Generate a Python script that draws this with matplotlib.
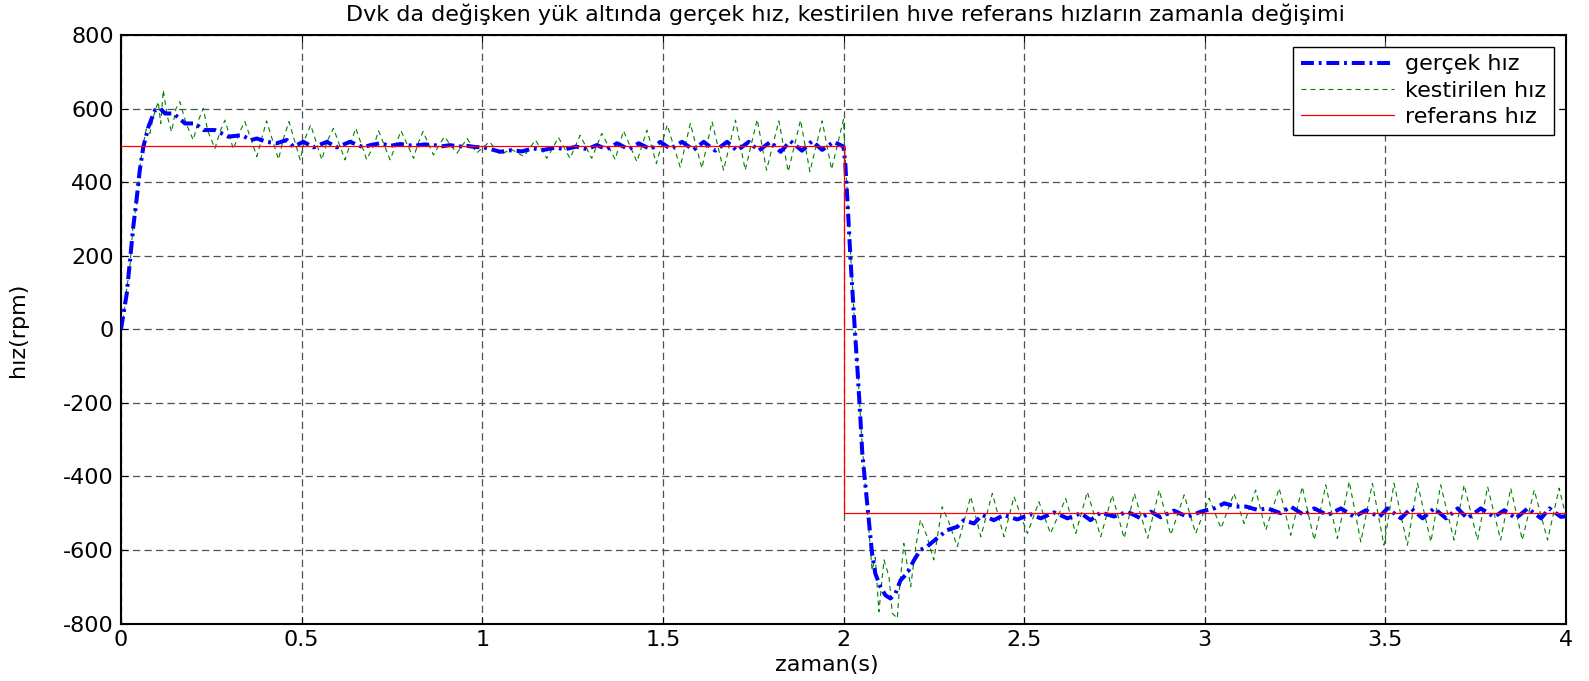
import matplotlib
matplotlib.use("Agg")
import matplotlib.pyplot as plt

plt.rcParams['font.family'] = ['DejaVu Sans']

# --- data -----------------------------------------------------------------
# actual speed (rpm)
gercek_t = [0, 0.016, 0.025, 0.034, 0.043, 0.052, 0.062, 0.076, 0.094, 0.108,
            0.122, 0.145, 0.16, 0.177, 0.205, 0.228, 0.26, 0.297, 0.334, 0.36,
            0.376, 0.403, 0.431, 0.459, 0.477, 0.505, 0.533, 0.57, 0.597, 0.634,
            0.671, 0.69, 0.717, 0.745, 0.773, 0.81, 0.84, 0.865, 0.89, 0.911,
            0.935, 0.958, 0.98, 1.004, 1.05, 1.08, 1.11, 1.14, 1.17, 1.2,
            1.23, 1.26, 1.29, 1.317, 1.345, 1.373, 1.405, 1.433, 1.466, 1.493,
            1.521, 1.553, 1.585, 1.613, 1.645, 1.678, 1.705, 1.738, 1.765, 1.798,
            1.826, 1.853, 1.885, 1.913, 1.941, 1.973, 2.0, 2.005, 2.012, 2.02,
            2.03, 2.04, 2.047, 2.052, 2.061, 2.07, 2.079, 2.088, 2.102, 2.116,
            2.13, 2.144, 2.158, 2.176, 2.195, 2.213, 2.231, 2.259, 2.287, 2.315,
            2.333, 2.361, 2.384, 2.416, 2.444, 2.481, 2.518, 2.546, 2.583, 2.62,
            2.657, 2.684, 2.712, 2.749, 2.786, 2.823, 2.851, 2.878, 2.915, 2.952,
            2.989, 3.026, 3.054, 3.086, 3.114, 3.146, 3.174, 3.21, 3.238, 3.275,
            3.303, 3.34, 3.377, 3.414, 3.446, 3.483, 3.506, 3.543, 3.571, 3.603,
            3.635, 3.668, 3.7, 3.727, 3.764, 3.801, 3.829, 3.861, 3.894, 3.931,
            3.954, 3.986, 4.0]
gercek_v = [0, 98, 188, 279, 352, 433, 497, 551, 596, 601,
            587, 587, 575, 560, 560, 542, 542, 524, 528, 515,
            519, 510, 506, 515, 497, 510, 495, 510, 495, 510,
            495, 501, 506, 499, 504, 499, 503, 501, 498, 501,
            497, 499, 496, 495, 483, 487, 484, 492, 488, 494,
            490, 497, 490, 501, 490, 506, 490, 506, 490, 510,
            491, 510, 488, 510, 486, 510, 486, 510, 486, 510,
            483, 512, 486, 512, 488, 510, 497, 450, 330, 180,
            20, -130, -247, -337, -428, -518, -609, -664, -700, -723,
            -732, -718, -682, -664, -628, -600, -591, -568, -546, -537,
            -519, -528, -505, -519, -505, -517, -503, -514, -498, -514,
            -500, -519, -498, -509, -496, -514, -496, -511, -493, -510,
            -496, -487, -473, -482, -482, -491, -487, -500, -482, -505,
            -487, -505, -487, -510, -492, -510, -487, -514, -487, -514,
            -487, -514, -487, -514, -487, -510, -492, -514, -487, -514,
            -487, -510, -508]

# estimated speed (rpm)
kestirilen_t = [0, 0.008, 0.016, 0.025, 0.034, 0.043, 0.052, 0.062, 0.07, 0.08,
                0.09, 0.103, 0.11, 0.117, 0.128, 0.14, 0.152, 0.163, 0.18, 0.2,
                0.215, 0.228, 0.24, 0.26, 0.275, 0.288, 0.311, 0.33, 0.343, 0.376,
                0.39, 0.403, 0.436, 0.45, 0.465, 0.496, 0.51, 0.525, 0.556, 0.57,
                0.588, 0.62, 0.635, 0.65, 0.68, 0.7, 0.713, 0.745, 0.76, 0.775,
                0.81, 0.82, 0.836, 0.865, 0.88, 0.895, 0.93, 0.945, 0.958, 0.985,
                1.02, 1.05, 1.08, 1.115, 1.147, 1.179, 1.211, 1.243, 1.271, 1.303,
                1.331, 1.368, 1.391, 1.428, 1.456, 1.482, 1.512, 1.548, 1.576, 1.608,
                1.636, 1.668, 1.701, 1.728, 1.761, 1.787, 1.821, 1.847, 1.881, 1.907,
                1.941, 1.967, 2.0, 2.003, 2.01, 2.02, 2.03, 2.04, 2.05, 2.06,
                2.07, 2.079, 2.088, 2.098, 2.112, 2.126, 2.135, 2.149, 2.153, 2.167,
                2.186, 2.2, 2.213, 2.23, 2.25, 2.273, 2.29, 2.315, 2.352, 2.38,
                2.412, 2.444, 2.472, 2.509, 2.541, 2.573, 2.615, 2.643, 2.675, 2.712,
                2.744, 2.777, 2.805, 2.842, 2.874, 2.906, 2.943, 2.975, 3.012, 3.045,
                3.081, 3.109, 3.141, 3.169, 3.206, 3.238, 3.27, 3.303, 3.335, 3.367,
                3.4, 3.432, 3.464, 3.496, 3.524, 3.561, 3.589, 3.626, 3.653, 3.69,
                3.718, 3.755, 3.783, 3.819, 3.847, 3.879, 3.912, 3.949, 3.981, 4.0]
kestirilen_v = [0, 40, 110, 175, 290, 340, 440, 505, 545, 533,
                580, 619, 560, 651, 580, 537, 600, 619, 560, 515,
                570, 601, 540, 492, 540, 569, 490, 540, 565, 470,
                520, 567, 462, 520, 565, 461, 520, 556, 461, 510,
                547, 461, 505, 547, 462, 500, 540, 461, 500, 540,
                465, 500, 538, 474, 500, 524, 479, 500, 519, 480,
                510, 475, 490, 470, 515, 465, 522, 465, 528, 465,
                533, 462, 540, 456, 542, 451, 556, 441, 560, 438,
                565, 433, 569, 433, 571, 433, 567, 429, 569, 429,
                567, 435, 571, 490, 380, 200, 30, -120, -290, -420,
                -540, -655, -620, -768, -627, -673, -772, -786, -727, -582,
                -700, -591, -518, -560, -627, -482, -520, -591, -455, -564,
                -446, -564, -455, -555, -469, -555, -460, -555, -442, -564,
                -451, -568, -446, -568, -437, -559, -450, -555, -459, -541,
                -446, -528, -437, -546, -432, -560, -428, -573, -423, -569,
                -414, -578, -419, -587, -419, -587, -419, -578, -423, -573,
                -423, -573, -428, -573, -432, -573, -437, -573, -432, -510]

# reference speed (rpm)
referans_t = [0, 2, 2, 4]
referans_v = [500, 500, -500, -500]

x_ticks = [0, 0.5, 1, 1.5, 2, 2.5, 3, 3.5, 4]
x_tick_labels = ['0', '0.5', '1', '1.5', '2', '2.5', '3', '3.5', '4']
y_ticks = [-800, -600, -400, -200, 0, 200, 400, 600, 800]
y_tick_labels = ['-800', '-600', '-400', '-200', '0', '200', '400', '600', '800']

title_text = 'Dvk da değişken yük altında gerçek hız, kestirilen hıve referans hızların zamanla değişimi'
labels = ['gerçek hız', 'kestirilen hız', 'referans hız']

# --- figure ---------------------------------------------------------------
W, H = 1589, 681
fig = plt.figure(figsize=(W / 100, H / 100), dpi=100)
ax_l, ax_r, ax_t, ax_b = 121, 1566, 35.2, 623.5
ax = fig.add_axes([ax_l / W, 1 - ax_b / H, (ax_r - ax_l) / W, (ax_b - ax_t) / H])

fs = 16

ax.plot(gercek_t, gercek_v, color='#0000ff', lw=2.9,
        linestyle=(0, (3.2, 1.2, 0.7, 1.2)), label=labels[0], zorder=3)
ax.plot(kestirilen_t, kestirilen_v, color='#008000', lw=0.8,
        linestyle=(0, (4.5, 3.6)), label=labels[1], zorder=2)
ax.plot(referans_t, referans_v, color='#ff0000', lw=0.9,
        linestyle='-', label=labels[2], zorder=4)

ax.set_xlim(0, 4)
ax.set_ylim(-800, 800)
ax.set_xticks(x_ticks)
ax.set_xticklabels(x_tick_labels, fontsize=fs)
ax.set_yticks(y_ticks)
ax.set_yticklabels(y_tick_labels, fontsize=fs)
ax.tick_params(direction='in', length=5, width=0.8, top=True, right=True,
               pad=5, colors='black')

ax.grid(True, color='#505050', lw=0.9, linestyle=(0, (5.8, 3.4)))
ax.set_axisbelow(True)
for s in ax.spines.values():
    s.set_linewidth(1.5)
    s.set_color('black')

ax.set_xlabel('zaman(s)', fontsize=fs, va='center')
ax.xaxis.set_label_coords((827 - ax_l) / (ax_r - ax_l), (ax_b - 665) / (ax_b - ax_t))
ax.set_ylabel('hız(rpm)', fontsize=fs, va='center')
ax.yaxis.set_label_coords((18 - ax_l) / (ax_r - ax_l), 0.5)

fig.text(845 / W, 1 - 14 / H, title_text, fontsize=fs, ha='center', va='center')

leg = ax.legend(loc='upper right', bbox_to_anchor=(1554 / W, 1 - 46.7 / H),
                bbox_transform=fig.transFigure, fontsize=fs, frameon=True,
                fancybox=False, shadow=False, framealpha=1, edgecolor='black',
                handlelength=4.2, handletextpad=0.5, labelspacing=0.28,
                borderpad=0.35, borderaxespad=0)
leg.get_frame().set_linewidth(1.0)

fig.savefig('out.png', dpi=100)
